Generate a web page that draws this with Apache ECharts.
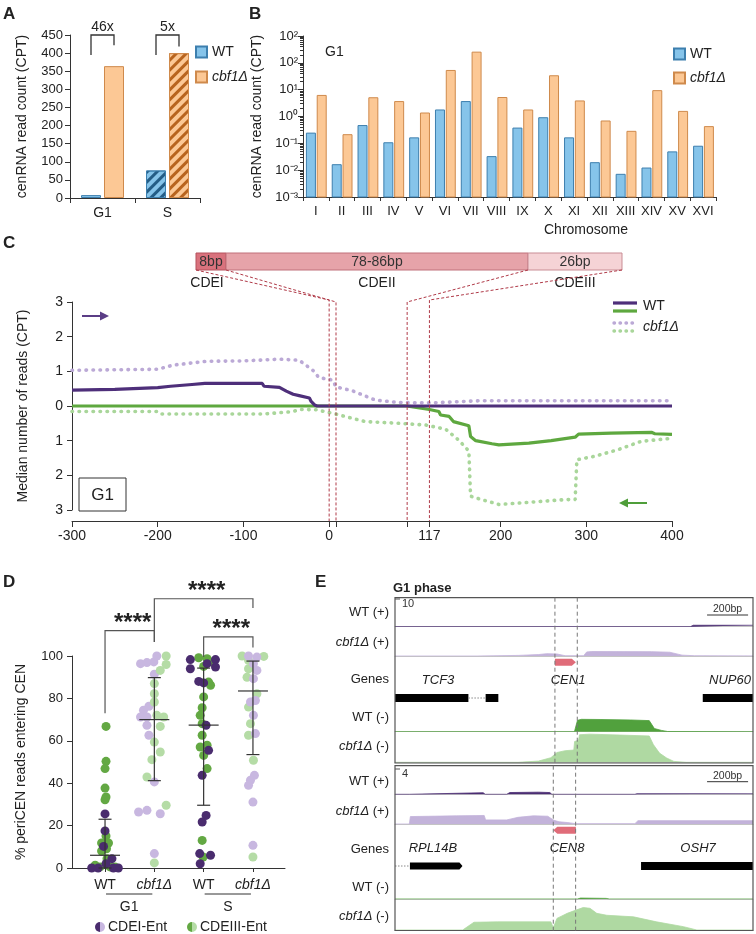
<!DOCTYPE html>
<html><head><meta charset="utf-8">
<script src="https://cdn.jsdelivr.net/npm/echarts@6/dist/echarts.min.js"></script>
<style>html,body{margin:0;padding:0;background:#fff}#c{width:756px;height:934px}</style>
</head><body><div id="c"></div>
<script>
// ================= DATA =================
// Panel A
const A_CATEGORIES = ['G1', 'S'];
const A_WT = [8, 76];
const A_CBF1 = [364, 400];
const A_FOLD = ['46x', '5x'];
// Panel B
const B_CHROMOSOMES = ['I','II','III','IV','V','VI','VII','VIII','IX','X','XI','XII','XIII','XIV','XV','XVI'];
const B_WT = [0.24, 0.016, 0.46, 0.105, 0.16, 1.75, 3.6, 0.032, 0.37, 0.9, 0.16, 0.019, 0.007, 0.012, 0.048, 0.078];
const B_CBF1 = [6.1, 0.21, 5.0, 3.6, 1.35, 52, 250, 5.1, 1.75, 33, 3.8, 0.68, 0.28, 9.2, 1.55, 0.42];
const B_TICKS = [0.001, 0.01, 0.1, 1, 10, 100, 1000];
const B_TICK_LABELS = ['10⁻³', '10⁻²', '10⁻¹', '10⁰', '10¹', '10²', '10²'];
const B_MINOR_TICKS = [];
for (let d = -3; d < 3; d++) for (let k = 2; k < 10; k++) B_MINOR_TICKS.push(+(k * Math.pow(10, d)).toPrecision(3));
// Panel C (position bp, median reads CPT); reverse-strand values drawn downward
const C_WT_FWD = [[-300,0.46],[-250,0.48],[-200,0.53],[-185,0.57],[-160,0.62],[-145,0.65],[-78,0.65],[-76,0.57],[-58,0.54],[-50,0.43],[-42,0.34],[-35,0.3],[-23,0.23],[-21,0.13],[-17,0.03],[-14,0],[400,0]];
const C_CBF1_FWD = [[-300,1.03],[-200,1.06],[-182,1.18],[-143,1.29],[-101,1.3],[-58,1.35],[-35,1.32],[-19,1.03],[-12,0.82],[4,0.75],[8,0.55],[27,0.44],[54,0.17],[82,0.1],[120,0.09],[174,0.15],[400,0.15]];
const C_WT_REV = [[-300,0],[90,0],[96,0.02],[117,0.1],[128,0.16],[130,0.26],[140,0.3],[145,0.45],[163,0.57],[165,0.88],[171,1.0],[190,1.09],[198,1.12],[233,1.07],[259,1.0],[287,0.9],[291,0.81],[329,0.78],[376,0.76],[380,0.8],[400,0.82]];
const C_CBF1_REV = [[-300,0.16],[-200,0.16],[-197,0.23],[-76,0.23],[-42,0.16],[-35,0.1],[-15,0.11],[4,0.21],[42,0.45],[82,0.5],[113,0.55],[136,0.67],[151,0.98],[163,1.3],[165,2.6],[171,2.65],[198,2.84],[221,2.8],[275,2.7],[287,2.7],[289,1.55],[310,1.45],[337,1.26],[364,1.02],[400,0.93]];
const C_X_LABELS = [-300, -200, -100, 0, 117, 200, 300, 400];
const C_X_TICKS = [-300, -200, -100, 0, 8, 91, 117, 200, 300, 400];
const C_CDE_BOUNDS = [0, 8, 91, 117];
// Panel D  ([jitter offset in category units, % entering CEN])
const D_GROUPS = ['WT', 'cbf1Δ', 'WT', 'cbf1Δ'];
const D_PHASES = ['G1', 'S'];
const D_G1_WT_CDEI = [[0,25.5],[0,17.5],[-0.03,10.2],[0.14,4.4],[0.02,2],[-0.27,0],[-0.14,0],[0.17,0],[0.27,0]];
const D_G1_WT_CDEIII = [[0.02,66.8],[0.02,50.3],[0,46.9],[0,37.7],[0.02,33.5],[0,32.2],[0.02,15.1],[-0.07,11.8],[0.07,11.8],[0.03,9.1],[-0.07,8],[0.04,4.4],[-0.2,1.3],[-0.1,0.5],[0.1,0.5],[0.2,0.5]];
const D_G1_CBF_CDEI = [[-0.28,96.4],[-0.15,96.9],[-0.01,97.2],[0.05,100],[0,91.4],[-0.11,76.3],[-0.22,74.4],[-0.28,71.2],[-0.15,71.2],[-0.15,67.3],[-0.11,62.6],[0,40.6],[-0.32,26.4],[-0.15,27.2],[0.12,25.6],[0,6.8]];
const D_G1_CBF_CDEIII = [[0.24,100],[0.24,96],[0.12,93.2],[0,87],[0,82.2],[0,78.3],[0.05,72],[0.19,71.2],[0.12,66.8],[0,59.4],[0.12,54.7],[-0.05,51.1],[-0.15,42.9],[0.24,29.6],[0,2.4]];
const D_S_WT_CDEI = [[-0.27,98.3],[-0.27,94],[0.07,96.4],[0.24,98.3],[0.24,94.8],[-0.1,88],[0,87.3],[0.05,67.3],[0.1,55.5],[-0.03,43.7],[0.05,24.8],[-0.03,21.7],[-0.08,6.8],[0.14,6],[-0.07,2]];
const D_S_WT_CDEIII = [[-0.1,99.2],[0.07,98.7],[0.17,97.2],[0,95.1],[0.1,87.7],[0.14,86.2],[0,80.7],[-0.03,75.6],[-0.07,72],[-0.03,68.1],[-0.03,62.6],[-0.07,57.1],[0.07,57.9],[0,53.1],[0.07,46.9],[-0.03,13],[-0.01,5.2]];
const D_S_CBF_CDEI = [[-0.09,100],[0.08,99.5],[0.01,96.4],[0.08,93.2],[0.01,89.3],[0.05,79],[-0.05,78.3],[0.01,72],[0.05,63.4],[0.03,43.7],[-0.05,41.4],[-0.09,39],[0,31.1],[0,10.7]];
const D_S_CBF_CDEIII = [[-0.22,100],[-0.09,98],[0.22,99.8],[-0.09,94],[-0.12,90],[0.08,82.2],[-0.09,75.9],[-0.05,68.1],[-0.09,62.6],[0.01,50.8],[0,5.2]];
// [group, mean, lower, upper]
const D_SUMMARY = [[0, 6, 0, 23], [1, 70, 41.2, 89.8], [2, 67.4, 29.6, 94.3], [3, 83.5, 53.5, 97.6]];
// Panel E (position bp across the browser window, signal CPT)
const E_TOP_WT_PLUS = [[0,0],[1440,0],[1455,0.5],[1746,0.5]];
const E_TOP_CBF_PLUS = [[0,0],[400,0],[600,0.2],[700,0.5],[740,0.8],[790,0.7],[830,0.1],[920,0.1],[935,1.4],[960,1.55],[1250,1.5],[1340,1.3],[1400,0.3],[1460,0.1],[1746,0.05]];
const E_TOP_WT_MINUS = [[0,0],[875,0],[882,0.3],[890,3.6],[910,3.9],[1000,3.85],[1150,3.7],[1240,3.5],[1265,1.0],[1300,0.4],[1330,0.05],[1746,0]];
const E_TOP_CBF_MINUS = [[0,0],[600,0],[700,0.4],[760,1.5],[790,3.2],[830,3.8],[872,4.0],[876,6.8],[895,7.2],[900,9.0],[950,9.2],[1100,8.9],[1240,8.6],[1260,5.8],[1290,3.0],[1325,1.4],[1360,0.3],[1420,0],[1746,0]];
const E_BOT_WT_PLUS = [[0,0],[70,0],[75,0.22],[430,0.22],[440,0],[545,0],[560,0.25],[700,0.3],[755,0.25],[765,0],[1170,0],[1180,0.08],[1746,0.08]];
const E_BOT_CBF_PLUS = [[0,0],[70,0],[75,1.0],[300,1.1],[435,1.15],[442,0.55],[545,0.55],[600,0.9],[675,1.1],[745,1.05],[775,0.5],[800,0.3],[840,0.2],[880,0.05],[1170,0.05],[1185,0.45],[1746,0.45]];
const E_BOT_WT_MINUS = [[0,0],[890,0],[905,0.12],[1030,0.08],[1045,0],[1746,0]];
const E_BOT_CBF_MINUS = [[0,0],[330,0],[385,1.0],[500,1.05],[760,1.05],[772,0.3],[790,1.5],[840,2.15],[886,2.6],[918,2.9],[951,2.8],[984,2.15],[1033,1.9],[1163,1.7],[1276,1.05],[1407,0.43],[1472,0],[1746,0]];
const E_TOP_GENE_PARTS = [[0,358,'exon'],[358,442,'intron'],[442,504,'exon'],[1501,1746,'exon'],[780,882,'cen+']];
const E_TOP_GENE_NAMES = [['TCF3',210],['CEN1',844],['NUP60',1634]];
const E_BOT_GENE_PARTS = [[0,73,'intron'],[73,329,'arrow+'],[1200,1746,'exon'],[772,882,'cen-']];
const E_BOT_GENE_NAMES = [['RPL14B',185],['CEN8',839],['OSH7',1478]];
const E_TOP_CEN_LINES = [780, 889];
const E_BOT_CEN_LINES = [772, 881];
const E_SCALE = [10, 4];
const E_SPAN_BP = 1746;

// ================= STYLE =================
const FONT = '"Liberation Sans", Arial, Helvetica, sans-serif';
const TXT = '#222';
const BLUE = '#86c4ea', BLUE_B = '#3d7fae', BLUE_H = '#245d86';
const ORANGE = '#fcc895', ORANGE_B = '#cf8a4c', ORANGE_H = '#b8641e';
const PURPLE = '#4e2f7a', LPURPLE = '#bba9d6', GREEN = '#5ea83f', LGREEN = '#a9d69a';
const D_DP = '#4a2c6e', D_G = '#63a843', D_LP = '#c8b7e0', D_LG = '#b5dca6';
const italicRich = (s) => ({ i: { fontStyle: 'italic', fontSize: s, color: TXT, fontFamily: FONT } });

const chart = echarts.init(document.getElementById('c'), null, { renderer: 'canvas', width: 756, height: 934 });

const grids = [], xAxes = [], yAxes = [], series = [];
function addGrid(g) { grids.push(Object.assign({ outerBoundsMode: 'none', containLabel: false }, g)); return grids.length - 1; }
const axisLineS = { show: true, onZero: false, lineStyle: { color: '#333', width: 1 } };

// ---- A ----
const gA = addGrid({ left: 70, top: 35, width: 130, height: 163 });
xAxes.push({ gridIndex: gA, type: 'category', data: A_CATEGORIES, axisLine: axisLineS, axisTick: { show: true, length: 5, lineStyle: { color: '#333' } }, axisLabel: { fontSize: 14, color: TXT, margin: 8 } });
yAxes.push({ gridIndex: gA, type: 'value', min: 0, max: 450, interval: 50, splitLine: { show: false }, axisLine: axisLineS, axisTick: { show: true, length: 5, lineStyle: { color: '#333' } }, axisLabel: { fontSize: 13, color: TXT, margin: 7 }, name: 'cenRNA read count (CPT)', nameLocation: 'middle', nameGap: 41, nameTextStyle: { fontSize: 14, color: TXT } });
const hatch = (c) => ({ symbol: 'rect', symbolSize: 1, dashArrayX: [1, 0], dashArrayY: [2.5, 4], rotation: -Math.PI / 4, color: c });
series.push({ type: 'bar', name: 'WT', xAxisIndex: 0, yAxisIndex: 0, barWidth: 20, barGap: '15%', itemStyle: { color: BLUE, borderColor: BLUE_B, borderWidth: 1 },
  data: A_WT.map((v, i) => A_CATEGORIES[i] === 'S' ? { value: v, itemStyle: { decal: hatch(BLUE_H) } } : v) });
series.push({ type: 'bar', name: 'cbf1Δ', xAxisIndex: 0, yAxisIndex: 0, barWidth: 20, barGap: '15%', itemStyle: { color: ORANGE, borderColor: ORANGE_B, borderWidth: 1 },
  data: A_CBF1.map((v, i) => A_CATEGORIES[i] === 'S' ? { value: v, itemStyle: { decal: hatch(ORANGE_H) } } : v) });

// ---- B ----
const gB = addGrid({ left: 303, top: 36, width: 413, height: 161 });
xAxes.push({ gridIndex: gB, type: 'category', data: B_CHROMOSOMES, axisLine: axisLineS, axisTick: { show: true, length: 4, lineStyle: { color: '#333' } }, axisLabel: { fontSize: 13, color: TXT, margin: 8, interval: 0 } });
const B_Y = yAxes.length;
yAxes.push({ gridIndex: gB, type: 'log', logBase: 10, min: 0.001, max: 1000, splitLine: { show: false }, axisLine: axisLineS,
  axisTick: { show: true, length: 5, customValues: B_TICKS, lineStyle: { color: '#333' } },
  axisLabel: { fontSize: 13, color: TXT, margin: 5, customValues: B_TICKS, formatter: (v) => B_TICK_LABELS[Math.round(Math.log10(v)) + 3] },
  name: 'cenRNA read count (CPT)', nameLocation: 'middle', nameGap: 27, nameTextStyle: { fontSize: 14, color: TXT } });
const bBar = (name, vals, fill, stroke, off) => ({ type: 'custom', name, xAxisIndex: 1, yAxisIndex: B_Y, itemStyle: { color: fill, borderColor: stroke, borderWidth: 1 },
  data: vals.map((v, i) => [i, v]), encode: { x: 0, y: 1 },
  renderItem: (params, api) => {
    const base = api.coord([api.value(0), 0.001]), top = api.coord([api.value(0), api.value(1)]);
    return { type: 'rect', shape: { x: base[0] + off - 4.5, y: top[1], width: 9, height: base[1] - top[1] }, style: { fill, stroke, lineWidth: 1 } };
  } });

// ---- C ----
const gC = addGrid({ left: 72, top: 302, width: 600, height: 208 });
xAxes.push({ gridIndex: gC, type: 'value', min: -300, max: 400, offset: 11, splitLine: { show: false }, axisLine: axisLineS,
  axisTick: { show: true, length: 6, customValues: C_X_TICKS, lineStyle: { color: '#333' } },
  axisLabel: { fontSize: 14, color: TXT, margin: 8, customValues: C_X_LABELS } });
const C_Y = yAxes.length;
yAxes.push({ gridIndex: gC, type: 'value', min: -3, max: 3, interval: 1, splitLine: { show: false }, axisLine: axisLineS,
  axisTick: { show: true, length: 5, lineStyle: { color: '#333' } },
  axisLabel: { fontSize: 14, color: TXT, margin: 9, formatter: (v) => String(Math.abs(v)) },
  name: 'Median number of reads (CPT)', nameLocation: 'middle', nameGap: 42, nameTextStyle: { fontSize: 14, color: TXT } });
series.push(bBar('WT', B_WT, BLUE, BLUE_B, -5));
series.push(bBar('cbf1Δ', B_CBF1, ORANGE, ORANGE_B, 5.8));
const dotted = (c) => ({ color: c, width: 3.6, type: [0.5, 6.5], cap: 'round' });
series.push({ type: 'line', name: 'cbf1Δ fwd', xAxisIndex: 2, yAxisIndex: C_Y, symbol: 'none', lineStyle: dotted(LPURPLE), data: C_CBF1_FWD, z: 2 });
series.push({ type: 'line', name: 'cbf1Δ rev', xAxisIndex: 2, yAxisIndex: C_Y, symbol: 'none', lineStyle: dotted(LGREEN), data: C_CBF1_REV.map(p => [p[0], -p[1]]), z: 2 });
series.push({ type: 'line', name: 'WT rev', xAxisIndex: 2, yAxisIndex: C_Y, symbol: 'none', lineStyle: { color: GREEN, width: 3.2 }, data: C_WT_REV.map(p => [p[0], -p[1]]), z: 3 });
series.push({ type: 'line', name: 'WT fwd', xAxisIndex: 2, yAxisIndex: C_Y, symbol: 'none', lineStyle: { color: PURPLE, width: 3.2 }, data: C_WT_FWD, z: 4 });

// ---- D ----
const gD = addGrid({ left: 72, top: 656, width: 213, height: 212 });
xAxes.push({ gridIndex: gD, type: 'value', min: -0.67, max: 3.65, splitLine: { show: false }, axisLine: axisLineS,
  axisTick: { show: true, length: 4, customValues: [0, 1, 2, 3], lineStyle: { color: '#333' } },
  axisLabel: { fontSize: 14, color: TXT, margin: 10, customValues: [0, 1, 2, 3], rich: italicRich(14),
    formatter: (v) => { const s = D_GROUPS[Math.round(v)]; return s === 'WT' ? s : '{i|' + s + '}'; } } });
const D_Y = yAxes.length;
yAxes.push({ gridIndex: gD, type: 'value', min: 0, max: 100, interval: 20, splitLine: { show: false }, axisLine: axisLineS,
  axisTick: { show: true, length: 5, lineStyle: { color: '#333' } }, axisLabel: { fontSize: 13, color: TXT, margin: 9 },
  name: '% periCEN reads entering CEN', nameLocation: 'middle', nameGap: 44, nameTextStyle: { fontSize: 14, color: TXT } });
const dScatter = (arr, g, color, name) => ({ type: 'scatter', name, xAxisIndex: 3, yAxisIndex: D_Y, symbolSize: 9, itemStyle: { color, opacity: 1 }, data: arr.map(p => [g + p[0], p[1]]), z: 3 });
series.push(dScatter(D_G1_WT_CDEIII, 0, D_G, 'G1 WT CDEIII'));
series.push(dScatter(D_G1_WT_CDEI, 0, D_DP, 'G1 WT CDEI'));
series.push(dScatter(D_G1_CBF_CDEI, 1, D_LP, 'G1 cbf1 CDEI'));
series.push(dScatter(D_G1_CBF_CDEIII, 1, D_LG, 'G1 cbf1 CDEIII'));
series.push(dScatter(D_S_WT_CDEIII, 2, D_G, 'S WT CDEIII'));
series.push(dScatter(D_S_WT_CDEI, 2, D_DP, 'S WT CDEI'));
series.push(dScatter(D_S_CBF_CDEIII, 3, D_LG, 'S cbf1 CDEIII'));
series.push(dScatter(D_S_CBF_CDEI, 3, D_LP, 'S cbf1 CDEI'));
series.push({ type: 'custom', name: 'mean±SD', xAxisIndex: 3, yAxisIndex: D_Y, z: 10, data: D_SUMMARY, encode: { x: 0, y: [1, 2, 3] },
  renderItem: (params, api) => {
    const x = api.value(0);
    const pm = api.coord([x, api.value(1)]), pl = api.coord([x, api.value(2)]), ph = api.coord([x, api.value(3)]);
    const st = { stroke: '#333', lineWidth: 1.2 };
    return { type: 'group', children: [
      { type: 'line', shape: { x1: pl[0], y1: pl[1], x2: ph[0], y2: ph[1] }, style: st },
      { type: 'line', shape: { x1: pm[0] - 15, y1: pm[1], x2: pm[0] + 15, y2: pm[1] }, style: st },
      { type: 'line', shape: { x1: ph[0] - 6.5, y1: ph[1], x2: ph[0] + 6.5, y2: ph[1] }, style: st },
      { type: 'line', shape: { x1: pl[0] - 6.5, y1: pl[1], x2: pl[0] + 6.5, y2: pl[1] }, style: st } ] };
  } });

// ---- E ----
const E_LEFT = 395, E_W = 358;
const E_ROWS = [
  [[598, 28.7], [627, 29], [656, 48], [700, 31.7], [731.7, 30.6]],
  [[766, 28.3], [794.3, 29.7], [824, 48], [868, 31], [899, 31]]
];
const E_TRACKS = [
  [E_TOP_WT_PLUS, E_TOP_CBF_PLUS, null, E_TOP_WT_MINUS, E_TOP_CBF_MINUS],
  [E_BOT_WT_PLUS, E_BOT_CBF_PLUS, null, E_BOT_WT_MINUS, E_BOT_CBF_MINUS]
];
const E_COLORS = ['#4b2d73', '#c3b3da', null, '#51a13d', '#afd9a2'];
const E_PARTS = [E_TOP_GENE_PARTS, E_BOT_GENE_PARTS];
const E_NAMES = [E_TOP_GENE_NAMES, E_BOT_GENE_NAMES];
const eGeneAxis = [];
E_ROWS.forEach((rows, pi) => {
  rows.forEach((r, ri) => {
    const g = addGrid({ left: E_LEFT, width: E_W, top: r[0], height: r[1] });
    const isGene = ri === 2;
    xAxes.push({ gridIndex: g, type: 'value', min: 0, max: E_SPAN_BP, show: !isGene, splitLine: { show: false },
      axisLine: { show: true, onZero: false, lineStyle: { color: '#c4c4c4', width: 1 } }, axisTick: { show: false }, axisLabel: { show: false } });
    yAxes.push({ gridIndex: g, type: 'value', min: 0, max: isGene ? 1 : E_SCALE[pi], show: false, splitLine: { show: false } });
    const xi = xAxes.length - 1, yi = yAxes.length - 1;
    if (isGene) {
      eGeneAxis[pi] = xi;
      const parts = E_PARTS[pi];
      series.push({ type: 'custom', name: 'genes' + pi, xAxisIndex: xi, yAxisIndex: yi, data: parts.map(p => [p[0], p[1]]), encode: { x: [0, 1] }, z: 5,
        renderItem: (params, api) => {
          const p = parts[params.dataIndex];
          const x1 = api.coord([p[0], 0])[0], x2 = api.coord([p[1], 0])[0];
          const yb = api.coord([0, 0.125])[1], yc = api.coord([0, 0.87])[1];
          switch (p[2]) {
            case 'exon': return { type: 'rect', shape: { x: x1, y: yb - 4, width: x2 - x1, height: 8 }, style: { fill: '#000' } };
            case 'intron': return { type: 'line', shape: { x1, y1: yb, x2, y2: yb }, style: { stroke: '#888', lineWidth: 1, lineDash: [1.5, 1.5] } };
            case 'arrow+': return { type: 'polygon', shape: { points: [[x1, yb - 3.5], [x2 - 3, yb - 3.5], [x2, yb], [x2 - 3, yb + 3.5], [x1, yb + 3.5]] }, style: { fill: '#000' } };
            case 'cen+': return { type: 'polygon', shape: { points: [[x1, yc - 3.5], [x2 - 4, yc - 3.5], [x2, yc], [x2 - 4, yc + 3.5], [x1, yc + 3.5]] }, style: { fill: '#e06c79' } };
            case 'cen-': return { type: 'polygon', shape: { points: [[x1, yc], [x1 + 4, yc - 3.5], [x2, yc - 3.5], [x2, yc + 3.5], [x1 + 4, yc + 3.5]] }, style: { fill: '#e06c79' } };
          }
        } });
      const names = E_NAMES[pi];
      series.push({ type: 'custom', name: 'geneNames' + pi, xAxisIndex: xi, yAxisIndex: yi, data: names.map(n => [n[1]]), encode: { x: 0 }, z: 5,
        renderItem: (params, api) => {
          const c = api.coord([api.value(0), 0.5]);
          return { type: 'text', x: c[0], y: c[1], style: { text: names[params.dataIndex][0], fontSize: 13, fontStyle: 'italic', fontFamily: FONT, fill: TXT, align: 'center', verticalAlign: 'middle' } };
        } });
    } else {
      series.push({ type: 'line', name: 'track' + pi + ri, xAxisIndex: xi, yAxisIndex: yi, symbol: 'none', data: E_TRACKS[pi][ri],
        lineStyle: { color: E_COLORS[ri], width: 0.8 }, areaStyle: { color: E_COLORS[ri], opacity: 1 }, z: 2 });
    }
  });
});
// B minor ticks (extra log axis on the left of panel B's grid)
yAxes.push({ gridIndex: gB, type: 'log', logBase: 10, min: 0.001, max: 1000, position: 'left', offset: 0, splitLine: { show: false }, axisLine: { show: false, onZero: false },
  axisLabel: { show: false }, axisTick: { show: true, length: 3, customValues: B_MINOR_TICKS, lineStyle: { color: '#333' } } });

const option = {
  animation: false,
  backgroundColor: '#fff',
  textStyle: { fontFamily: FONT, color: TXT },
  grid: grids, xAxis: xAxes, yAxis: yAxes, series,
  legend: [
    { left: 190, top: 40, orient: 'vertical', icon: 'rect', itemWidth: 11, itemHeight: 11, itemGap: 11, selectedMode: false, textStyle: { fontSize: 14, color: TXT },
      data: [{ name: 'WT' }, { name: 'cbf1Δ', textStyle: { fontStyle: 'italic' } }] },
    { left: 668, top: 42, orient: 'vertical', icon: 'rect', itemWidth: 11, itemHeight: 11, itemGap: 10, selectedMode: false, textStyle: { fontSize: 14, color: TXT },
      data: [{ name: 'WT' }, { name: 'cbf1Δ', textStyle: { fontStyle: 'italic' } }] }
  ]
};
chart.setOption(option);

// ================= ANNOTATIONS (positions via the chart's scales) =================
const G = [];
const px = (xi, v) => chart.convertToPixel({ xAxisIndex: xi }, v);
const py = (yi, v) => chart.convertToPixel({ yAxisIndex: yi }, v);
function txt(x, y, text, o) {
  o = o || {};
  const st = { text, fill: o.color || TXT, fontSize: o.size || 14, fontFamily: FONT, fontWeight: o.weight || 'normal', fontStyle: o.italic ? 'italic' : 'normal', align: o.align || 'left', verticalAlign: o.va || 'middle' };
  if (o.rich) st.rich = o.rich;
  G.push({ type: 'text', x, y, z: 60, silent: true, style: st });
}
function ln(x1, y1, x2, y2, stroke, w, dash) { G.push({ type: 'line', z: 60, silent: true, shape: { x1, y1, x2, y2 }, style: { stroke, lineWidth: w || 1, lineDash: dash || null } }); }
function pl(points, stroke, w, dash, cap) { G.push({ type: 'polyline', z: 60, silent: true, shape: { points }, style: { stroke, lineWidth: w || 1, lineDash: dash || null, lineCap: cap || 'butt', fill: null } }); }
function pg(points, fill) { G.push({ type: 'polygon', z: 60, silent: true, shape: { points }, style: { fill } }); }
function rc(x, y, w, h, fill, stroke, lw) { G.push({ type: 'rect', z: 55, silent: true, shape: { x, y, width: w, height: h }, style: { fill: fill || 'none', stroke: stroke || null, lineWidth: lw || 1 } }); }
const richI = (s) => ({ i: { fontStyle: 'italic', fontSize: s, fontFamily: FONT, fill: TXT } });

// panel letters
txt(3, 14, 'A', { size: 17, weight: 'bold' });
txt(249, 14, 'B', { size: 17, weight: 'bold' });
txt(3, 243, 'C', { size: 17, weight: 'bold' });
txt(3, 582, 'D', { size: 17, weight: 'bold' });
txt(315, 582, 'E', { size: 17, weight: 'bold' });

// A fold-change brackets
const aLegs = [[395, 422], [395, 418]];
A_CATEGORIES.forEach((c, i) => {
  const xc = px(0, i), xl = xc - 11.5, xr = xc + 11.5;
  const yt = py(0, 450);
  pl([[xl, py(0, aLegs[i][0])], [xl, yt], [xr, yt], [xr, py(0, aLegs[i][1])]], '#333', 1.3);
  txt(xc, py(0, 472), A_FOLD[i], { size: 14, align: 'center' });
});

// B annotations
txt(325, 52, 'G1', { size: 14 });
txt(586, 230, 'Chromosome', { size: 14, align: 'center' });

// C schematic
const SCH = [[196, 30, '#d9727d', '#b5505c', '8bp'], [226, 302, '#e6a3a9', '#c0707a', '78-86bp'], [528, 94, '#f5d3d6', '#c98d95', '26bp']];
SCH.forEach(s => { rc(s[0], 253, s[1], 17, s[2], s[3], 1); txt(s[0] + s[1] / 2, 262, s[4], { size: 14, align: 'center', color: '#333' }); });
txt(207, 283, 'CDEI', { size: 14, align: 'center' });
txt(377, 283, 'CDEII', { size: 14, align: 'center' });
txt(575, 283, 'CDEIII', { size: 14, align: 'center' });
const schX = [196, 226, 528, 622];
const schTop = [300, 302, 302, 300];
const cAxisY = py(C_Y, -3) + 11;
C_CDE_BOUNDS.forEach((b, i) => {
  const x = px(2, b);
  pl([[schX[i], 270], [x, schTop[i]], [x, cAxisY]], '#b03a48', 1, [3, 2]);
});
// C legend
ln(613, 303, 637, 303, PURPLE, 3.2); ln(613, 311, 637, 311, GREEN, 3.2);
txt(643, 306, 'WT', { size: 14 });
pl([[614, 323], [637, 323]], LPURPLE, 3.4, [0.5, 5.5], 'round');
pl([[614, 331], [637, 331]], LGREEN, 3.4, [0.5, 5.5], 'round');
txt(643, 327, 'cbf1Δ', { size: 14, italic: true });
// C strand arrows
ln(82, 316, 102, 316, '#5b3d86', 2); pg([[109, 316], [100, 311.5], [100, 320.5]], '#5b3d86');
ln(647, 503, 626, 503, '#4f9e3a', 2); pg([[619, 503], [628, 498.5], [628, 507.5]], '#4f9e3a');
// C G1 box
rc(79, 478, 47, 33, '#fff', '#333', 1);
txt(102.5, 495, 'G1', { size: 17, align: 'center' });

// D significance brackets
const dX = (g) => px(3, g), dY = (v) => py(D_Y, v);
pl([[dX(0), dY(73)], [dX(0), dY(112)], [dX(1), dY(112)], [dX(1), dY(106.6)]], '#555', 1.2);
pl([[dX(1), dY(106.6)], [dX(1), dY(127)], [dX(3), dY(127)], [dX(3), dY(122.6)]], '#555', 1.2);
pl([[dX(2), dY(99.5)], [dX(2), dY(109)], [dX(3), dY(109)], [dX(3), dY(104)]], '#555', 1.2);
txt((dX(0) + dX(1)) / 2 + 3, dY(118.4) + 6, '****', { size: 24, weight: 'bold', align: 'center' });
txt((dX(1) + dX(3)) / 2 + 3, dY(133.5) + 6, '****', { size: 24, weight: 'bold', align: 'center' });
txt((dX(2) + dX(3)) / 2 + 3, dY(115.6) + 6, '****', { size: 24, weight: 'bold', align: 'center' });
// D phase groups
D_PHASES.forEach((ph, i) => {
  const a = dX(2 * i) + 1, b = dX(2 * i + 1) - 2;
  ln(a, 894, b, 894, '#333', 1);
  txt((a + b) / 2, 907, ph, { size: 14, align: 'center' });
});
// D legend
G.push({ type: 'sector', z: 60, silent: true, shape: { cx: 100, cy: 927, r: 5, startAngle: Math.PI / 2, endAngle: Math.PI * 1.5 }, style: { fill: D_DP } });
G.push({ type: 'sector', z: 60, silent: true, shape: { cx: 100, cy: 927, r: 5, startAngle: -Math.PI / 2, endAngle: Math.PI / 2 }, style: { fill: D_LP } });
txt(108, 927, 'CDEI-Ent', { size: 14 });
G.push({ type: 'sector', z: 60, silent: true, shape: { cx: 192, cy: 927, r: 5, startAngle: Math.PI / 2, endAngle: Math.PI * 1.5 }, style: { fill: D_G } });
G.push({ type: 'sector', z: 60, silent: true, shape: { cx: 192, cy: 927, r: 5, startAngle: -Math.PI / 2, endAngle: Math.PI / 2 }, style: { fill: D_LG } });
txt(200, 927, 'CDEIII-Ent', { size: 14 });

// E annotations
txt(393, 588, 'G1 phase', { size: 13, weight: 'bold' });
const E_LABELS = [['WT (+)', false], ['{i|cbf1Δ} (+)', true], ['Genes', false], ['WT (-)', false], ['{i|cbf1Δ} (-)', true]];
const E_LABEL_Y = [[612.7, 642.7, 679, 717, 746.7], [781.7, 811, 849, 887, 916]];
const E_PANEL = [[597.7, 763], [765.7, 930.5]];
const E_CEN = [E_TOP_CEN_LINES, E_BOT_CEN_LINES];
const E_SCALE_Y = [[599, 604, 609, 615], [769, 774, 776, 781.7]];
[0, 1].forEach(pi => {
  E_LABELS.forEach((l, ri) => txt(389, E_LABEL_Y[pi][ri], l[0], { size: 13, align: 'right', rich: l[1] ? richI(13) : null }));
  rc(E_LEFT, E_PANEL[pi][0], E_W, E_PANEL[pi][1] - E_PANEL[pi][0], 'none', '#555', 1.2);
  const gx = eGeneAxis[pi];
  E_CEN[pi].forEach(b => { const x = px(gx, b); ln(x, E_PANEL[pi][0], x, E_PANEL[pi][1], '#777', 1, [4, 3]); });
  const sy = E_SCALE_Y[pi];
  ln(E_LEFT, sy[0], E_LEFT + 5, sy[0], '#555', 1);
  txt(E_LEFT + 7, sy[1], String(E_SCALE[pi]), { size: 11, color: '#333' });
  const s0 = px(gx, 1522), s1 = px(gx, 1722);
  txt((s0 + s1) / 2, sy[2], '200bp', { size: 10.5, align: 'center', color: '#333' });
  ln(s0, sy[3], s1, sy[3], '#333', 1);
});

chart.setOption({ graphic: { elements: G } });
</script>
</body></html>
